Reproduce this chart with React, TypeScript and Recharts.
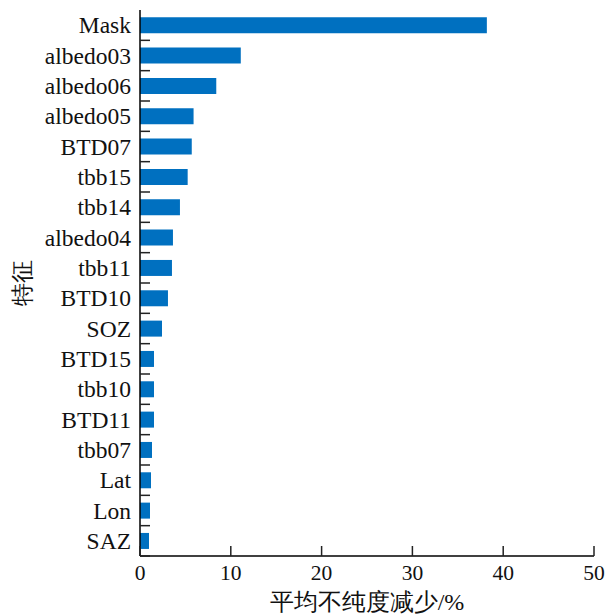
import { Bar, BarChart, XAxis, YAxis, Label } from 'recharts';

// feature importance, sorted descending
const features = [
  'Mask', 'albedo03', 'albedo06', 'albedo05', 'BTD07', 'tbb15', 'tbb14', 'albedo04', 'tbb11',
  'BTD10', 'SOZ', 'BTD15', 'tbb10', 'BTD11', 'tbb07', 'Lat', 'Lon', 'SAZ',
];
const importance = [
  38.2, 11.1, 8.4, 5.9, 5.7, 5.25, 4.4, 3.63, 3.52,
  3.08, 2.42, 1.54, 1.54, 1.54, 1.32, 1.21, 1.1, 0.99,
];
const xTicks = [0, 10, 20, 30, 40, 50];

const data = features.map((name, i) => ({ name, value: importance[i] }));

const SERIF = "'Liberation Serif'";
const TICK_LEN = 10;
const X_MARGIN = 9;
const Y_MARGIN = 9;

function FeatureTick(props: any) {
  const { x, y, payload } = props;
  const axisX = x + Y_MARGIN;
  const half = payload?.offset ?? 15;
  return (
    <g>
      <line x1={axisX} x2={axisX + TICK_LEN} y1={y + half} y2={y + half} stroke="#222" strokeWidth={1.5} />
      <text x={x} y={y} dy="0.35em" textAnchor="end" style={{ fontSize: 23.5, fontFamily: SERIF }} fill="#111">
        {payload.value}
      </text>
    </g>
  );
}

function ValueTick(props: any) {
  const { x, y, payload } = props;
  const axisY = y - X_MARGIN;
  return (
    <g>
      <line x1={x} x2={x} y1={axisY} y2={axisY - TICK_LEN} stroke="#222" strokeWidth={1.5} />
      <text x={x} y={y} dy="0.71em" textAnchor="middle" style={{ fontSize: 21.5, fontFamily: SERIF }} fill="#111">
        {payload.value}
      </text>
    </g>
  );
}

export default function App() {
  return (
    <div style={{ position: 'absolute', left: 0, top: 0, background: '#fff' }}>
      <BarChart
        width={615}
        height={616}
        data={data}
        layout="vertical"
        margin={{ top: 10, right: 21, bottom: 0, left: 0 }}
        barCategoryGap="24%"
      >
        <XAxis
          type="number"
          domain={[0, 50]}
          ticks={xTicks}
          interval={0}
          height={60}
          tickSize={0}
          tickMargin={X_MARGIN}
          tick={<ValueTick />}
          axisLine={{ stroke: '#000', strokeWidth: 1.5 }}
        >
          <Label
            value="平均不纯度减少/%"
            position="insideBottom"
            offset={6}
            style={{ fontSize: 24, fontFamily: SERIF, fill: '#111' }}
          />
        </XAxis>
        <XAxis
          xAxisId="top"
          orientation="top"
          type="number"
          domain={[0, 50]}
          height={0}
          tick={false}
          tickLine={false}
          axisLine={{ stroke: '#000', strokeWidth: 1.5 }}
        />
        <YAxis
          type="category"
          dataKey="name"
          width={140}
          interval={0}
          tickSize={0}
          tickMargin={Y_MARGIN}
          tick={<FeatureTick />}
          axisLine={{ stroke: '#000', strokeWidth: 1.5 }}
        >
          <Label
            value="特征"
            angle={-90}
            position="insideLeft"
            offset={22}
            style={{ fontSize: 23, fontFamily: SERIF, fill: '#111', textAnchor: 'middle' }}
          />
        </YAxis>
        <YAxis
          yAxisId="right"
          orientation="right"
          type="category"
          dataKey="name"
          width={0}
          tick={false}
          tickLine={false}
          axisLine={{ stroke: '#000', strokeWidth: 1.5 }}
        />
        <Bar dataKey="value" fill="#0070c0" isAnimationActive={false} />
      </BarChart>
    </div>
  );
}
